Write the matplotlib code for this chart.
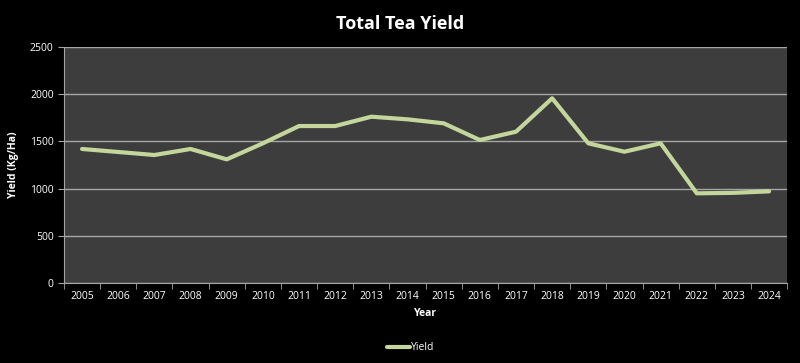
import matplotlib
matplotlib.use('Agg')
import matplotlib.pyplot as plt

# 연도별 차 수확량 (Kg/Ha)
years = ['2005', '2006', '2007', '2008', '2009', '2010', '2011', '2012', '2013', '2014',
         '2015', '2016', '2017', '2018', '2019', '2020', '2021', '2022', '2023', '2024']
yield_vals = [1420, 1388, 1356, 1420, 1310, 1480, 1663, 1663, 1762, 1734,
              1692, 1515, 1603, 1957, 1480, 1391, 1480, 950, 955, 971]

plt.rcParams['font.family'] = ['Open Sans', 'DejaVu Sans']

fig = plt.figure(figsize=(8, 3.63), dpi=100, facecolor='black')
ax = fig.add_axes([0.08, 0.2204, 0.904, 0.650])
ax.set_facecolor('#3d3d3d')

x = range(len(years))
ax.plot(x, yield_vals, color='#c3d69b', linewidth=3, label='Yield', solid_capstyle='round', zorder=3)

ax.set_xlim(-0.5, len(years) - 0.5)
ax.set_ylim(0, 2500)
ax.set_yticks(range(0, 2501, 500))
ax.grid(axis='y', color='#a6a6a6', linewidth=1, zorder=1)

# 카테고리 축: 라벨은 가운데, 눈금은 경계에
ax.set_xticks(list(x))
ax.set_xticklabels(years)
ax.set_xticks([i - 0.5 for i in range(len(years) + 1)], minor=True)
ax.tick_params(axis='x', which='major', length=0, colors='white', labelsize=7.5, pad=6)
ax.tick_params(axis='x', which='minor', length=4, color='#a6a6a6', direction='out')
ax.tick_params(axis='y', length=4, color='#a6a6a6', colors='white', labelsize=7.5)

for s in ['top', 'right']:
    ax.spines[s].set_visible(False)
for s in ['left', 'bottom']:
    ax.spines[s].set_color('#a6a6a6')

ax.set_xlabel('Year', color='white', fontsize=7.5, fontweight='bold', labelpad=4)
ax.set_ylabel('Yield (Kg/Ha)', color='white', fontsize=7.5, fontweight='bold', labelpad=8)
fig.suptitle('Total Tea Yield', color='white', fontsize=13, fontweight='bold', y=0.96)

leg = ax.legend(loc='center', bbox_to_anchor=(0.48, -0.275), frameon=False, fontsize=7.5,
                handlelength=2.2, handletextpad=0.1)
for t in leg.get_texts():
    t.set_color('white')

fig.savefig('out.png', dpi=100, facecolor='black')
